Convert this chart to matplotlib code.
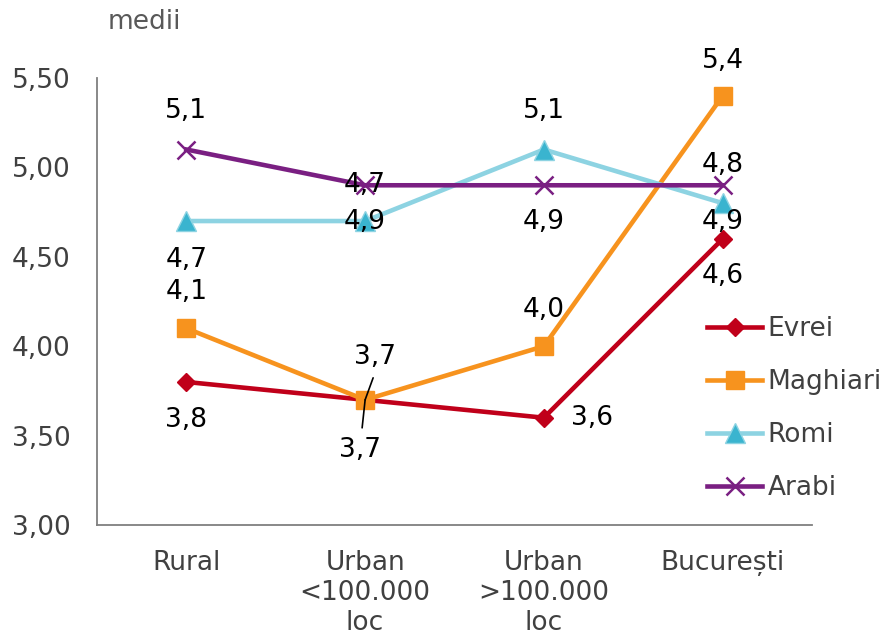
import matplotlib
matplotlib.use("Agg")
import matplotlib.pyplot as plt

categories = ["Rural", "Urban\n<100.000\nloc", "Urban\n>100.000\nloc", "București"]
series_names = ["Evrei", "Maghiari", "Romi", "Arabi"]
evrei = [3.8, 3.7, 3.6, 4.6]
maghiari = [4.1, 3.7, 4.0, 5.4]
romi = [4.7, 4.7, 5.1, 4.8]
arabi = [5.1, 4.9, 4.9, 4.9]
yticks = [3.00, 3.50, 4.00, 4.50, 5.00, 5.50]

plt.rcParams['font.family'] = ['DejaVu Sans']
FS = 19

fig = plt.figure(figsize=(8.83, 6.37), dpi=100)
ax = fig.add_axes([97/883, 1-525/637, (812-97)/883, (525-78)/637])
x = list(range(len(categories)))

styles = [
    dict(color="#C0001A", marker="D", ms=9, mfc="#C0001A", mec="#C0001A"),
    dict(color="#F7931E", marker="s", ms=13, mfc="#F7931E", mec="#F7931E"),
    dict(color="#8DD3E2", marker="^", ms=14, mfc="#3AB4CF", mec="#8DD3E2"),
    dict(color="#7A1F82", marker="x", ms=13, mfc="#7A1F82", mec="#7A1F82", mew=1.8),
]
data = [evrei, maghiari, romi, arabi]
lines = []
for name, vals, st in zip(series_names, data, styles):
    ln, = ax.plot(x, vals, lw=3.3, label=name, zorder=3, **st)
    lines.append(ln)

# label offsets in pixels (style, not data)
offsets = [
    [(0, -38), (-5, -50), (48, 0), (0, -37)],
    [(0, 36), (10, 43), (0, 36), (0, 35)],
    [(0, -39), (0, 36), (0, 39), (0, 38)],
    [(0, 39), (0, -37), (0, -37), (0, -37)],
]
for si, vals in enumerate(data):
    for i, v in enumerate(vals):
        dx, dy = offsets[si][i]
        ax.annotate(f"{v:.1f}".replace(".", ","), (i, v), xytext=(dx, dy),
                    textcoords="offset pixels", ha="center", va="center",
                    fontsize=FS, color="black", zorder=5)

# leader lines for overlapping 3,7 labels
ax.annotate("", (1, maghiari[1]), xytext=(8, 22), textcoords="offset pixels",
            arrowprops=dict(arrowstyle="-", color="black", lw=1.2, shrinkA=0, shrinkB=0))
ax.annotate("", (1, evrei[1]), xytext=(-3, -28), textcoords="offset pixels",
            arrowprops=dict(arrowstyle="-", color="black", lw=1.2, shrinkA=0, shrinkB=0))

ax.set_xlim(-0.5, 3.5)
ax.set_ylim(3.0, 5.5)
ax.set_yticks(yticks)
ax.set_yticklabels([f"{t:.2f}".replace(".", ",") for t in yticks])
ax.set_xticks(x)
ax.set_xticklabels(categories, linespacing=1.2)
ax.tick_params(axis="both", length=0, labelsize=FS, colors="#404040")
ax.tick_params(axis="y", pad=19)
ax.tick_params(axis="x", pad=18)
for s in ["top", "right"]:
    ax.spines[s].set_visible(False)
for s in ["left", "bottom"]:
    ax.spines[s].set_color("#7f7f7f")
    ax.spines[s].set_linewidth(1.3)

fig.text(108/883, 1-22/637, "medii", fontsize=FS, color="#595959", ha="left", va="center")

leg = fig.legend(handles=lines, loc="upper left", bbox_to_anchor=(707/883, 1-316/637),
                 frameon=False, fontsize=FS, handlelength=2.1, handletextpad=0.2,
                 labelspacing=1.02, borderaxespad=0, borderpad=0)
for t in leg.get_texts():
    t.set_color("#404040")

fig.savefig("out.png", dpi=100)
